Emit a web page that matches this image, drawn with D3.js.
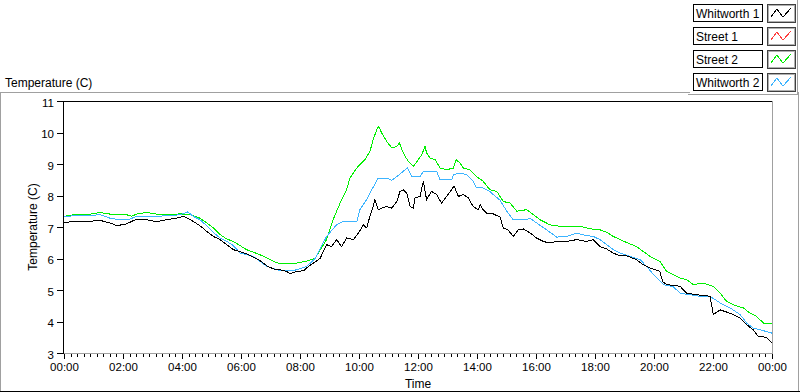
<!DOCTYPE html>
<html>
<head>
<meta charset="utf-8">
<script src="https://cdn.jsdelivr.net/npm/d3@7"></script>
<style>
  html, body { margin: 0; padding: 0; background: #ffffff; }
  svg { display: block; font-family: "Liberation Sans", Arial, sans-serif; }
</style>
</head>
<body>
<svg id="chart" width="800" height="392"></svg>
<script>
// ---------- DATA ----------
const seriesNames = ["Whitworth 1", "Street 1", "Street 2", "Whitworth 2"];
const seriesColors = ["#000000", "#ff3c3c", "#00f000", "#3cb4ff"];

const xTickLabels = ["00:00","02:00","04:00","06:00","08:00","10:00","12:00","14:00","16:00","18:00","20:00","22:00","00:00"];
const yTickValues = [3, 4, 5, 6, 7, 8, 9, 10, 11];

// Whitworth 1 (black): time in hours, temperature in °C
const whitworth1Hours = [0,0.32,0.77,1.22,1.56,1.79,2.12,2.46,2.8,3.14,3.48,3.82,4.04,4.2,4.38,4.61,4.84,5.06,5.29,5.52,5.74,5.97,6.19,6.42,6.64,6.87,7.1,7.32,7.55,7.66,7.89,8.12,8.29,8.45,8.68,8.9,9.07,9.24,9.41,9.58,9.81,9.98,10.15,10.26,10.37,10.48,10.54,10.65,10.77,10.94,11.11,11.28,11.39,11.5,11.62,11.73,11.84,11.9,12.07,12.18,12.29,12.46,12.63,12.8,12.97,13.14,13.22,13.37,13.54,13.71,13.87,14.04,14.11,14.21,14.33,14.5,14.67,14.78,14.89,15.06,15.23,15.4,15.57,15.8,16.02,16.25,16.47,16.7,17.04,17.38,17.72,17.94,18.17,18.4,18.62,18.85,19.07,19.41,19.64,19.86,20.2,20.29,20.43,20.88,21.11,21.45,21.9,22.01,22.24,22.46,22.69,22.92,23.14,23.36,23.53,23.81,24];
const whitworth1Temp  = [7.13,7.18,7.17,7.21,7.13,7.04,7.10,7.25,7.23,7.17,7.23,7.28,7.34,7.27,7.18,7.04,6.86,6.70,6.60,6.44,6.28,6.22,6.15,6.04,5.94,5.77,5.67,5.64,5.59,5.52,5.59,5.61,5.75,5.85,6.0,6.44,6.38,6.6,6.38,6.65,6.6,6.81,7.07,6.97,7.34,7.65,7.87,7.55,7.6,7.65,7.6,7.81,8.13,8.18,8.08,7.65,7.6,7.92,7.97,8.45,7.87,8.13,8.03,7.76,7.97,8.18,8.31,7.97,8.03,7.92,7.65,7.55,7.7,7.55,7.44,7.44,7.36,7.32,6.97,6.9,6.7,6.91,6.94,6.81,6.65,6.54,6.49,6.54,6.54,6.6,6.54,6.6,6.38,6.3,6.17,6.09,6.09,5.96,5.8,5.7,5.59,5.27,5.17,5.12,4.9,4.85,4.8,4.22,4.37,4.3,4.22,4.11,3.9,3.74,3.53,3.5,3.32];

// Street 1 (red): no samples visible in the plot
const street1Hours = [];
const street1Temp  = [];

// Street 2 (green)
const street2Hours = [0,0.32,0.77,1.22,1.56,2.12,2.29,2.46,2.8,3.25,3.7,3.93,4.27,4.61,4.84,5.06,5.29,5.52,5.74,5.97,6.19,6.42,6.64,6.87,7.1,7.32,7.77,8.23,8.51,8.9,9.12,9.36,9.58,9.69,9.92,10.2,10.37,10.48,10.6,10.67,10.77,10.94,11.11,11.28,11.37,11.5,11.67,11.84,12.01,12.13,12.24,12.29,12.41,12.58,12.75,12.97,13.2,13.29,13.42,13.54,13.76,13.99,14.21,14.44,14.67,14.89,15.12,15.35,15.68,15.91,16.14,16.47,16.81,17.49,17.72,18.06,18.17,18.4,18.62,18.85,19.07,19.41,19.64,19.86,20.2,20.43,20.65,20.88,21.11,21.33,21.67,22.01,22.24,22.46,22.69,23.03,23.25,23.48,23.71,24];
const street2Temp  = [7.34,7.39,7.39,7.46,7.41,7.39,7.34,7.41,7.46,7.39,7.39,7.42,7.39,7.28,7.13,6.97,6.76,6.62,6.54,6.41,6.28,6.2,6.12,6.02,5.91,5.83,5.83,5.92,6.0,6.6,7.23,7.76,8.18,8.55,8.87,9.14,9.4,9.77,10.09,10.19,9.98,9.72,9.51,9.56,9.67,9.35,9.08,8.92,9.14,9.3,9.56,9.35,9.19,9.14,8.87,8.82,8.87,9.14,9.03,8.87,8.82,8.6,8.45,8.18,8.13,7.81,7.76,7.5,7.55,7.39,7.23,7.07,7.02,7.02,6.97,6.91,6.91,6.83,6.7,6.6,6.51,6.38,6.22,6.07,5.91,5.59,5.49,5.38,5.33,5.17,5.22,5.11,4.9,4.64,4.53,4.43,4.27,4.16,3.95,3.93];

// Whitworth 2 (light blue)
const whitworth2Hours = [0,0.32,0.77,1.22,1.56,1.9,2.23,2.46,3.02,3.7,4.04,4.2,4.38,4.61,4.84,5.06,5.29,5.52,5.74,5.97,6.19,6.42,6.64,6.87,7.1,7.32,7.77,8.23,8.51,8.9,9.24,9.46,9.93,10.03,10.26,10.43,10.65,10.94,11.11,11.28,11.5,11.64,11.79,12.07,12.18,12.63,12.75,13.14,13.2,13.42,13.65,13.87,13.99,14.21,14.44,14.55,14.78,15.01,15.23,15.68,15.8,16.02,16.36,16.7,17.04,17.38,17.6,17.94,18.17,18.4,18.62,18.85,19.19,19.53,19.75,19.98,20.32,20.65,20.88,21.22,21.56,21.9,22.24,22.58,22.92,23.14,23.36,23.59,24];
const whitworth2Temp  = [7.32,7.36,7.36,7.39,7.28,7.23,7.25,7.34,7.34,7.36,7.42,7.48,7.34,7.23,7.04,6.83,6.65,6.54,6.41,6.17,6.12,6.07,5.91,5.75,5.68,5.61,5.61,5.75,6.0,6.7,7.07,7.18,7.18,7.55,7.87,8.18,8.55,8.55,8.48,8.6,8.77,8.87,8.6,8.6,8.77,8.77,8.5,8.5,8.66,8.71,8.66,8.45,8.24,8.24,8.13,8.03,7.85,7.5,7.23,7.23,7.28,7.13,6.91,6.68,6.7,6.81,6.75,6.7,6.6,6.44,6.28,6.17,6.07,5.96,5.75,5.49,5.17,5.11,4.9,4.85,4.8,4.8,4.59,4.43,4.22,3.95,3.79,3.74,3.63];

// ---------- DRAW ----------
const svg = d3.select("#chart");
const W = 800, H = 392;
const plot = { left: 64, right: 772, top: 101, bottom: 353 };

svg.append("rect").attr("width", W).attr("height", H).attr("fill", "#ffffff");

const x = d3.scaleLinear().domain([0, 24]).range([plot.left, plot.right]);
const y = d3.scaleLinear().domain([3, 11]).range([plot.bottom, plot.top]);

// outer panel frame
svg.append("line").attr("x1", 0).attr("x2", 690).attr("y1", 92.5).attr("y2", 92.5).attr("stroke", "#a0a0a0");
svg.append("line").attr("x1", 0.5).attr("x2", 0.5).attr("y1", 92).attr("y2", 392).attr("stroke", "#a0a0a0");
svg.append("line").attr("x1", 798.5).attr("x2", 798.5).attr("y1", 92).attr("y2", 392).attr("stroke", "#a0a0a0");
svg.append("line").attr("x1", 0).attr("x2", 800).attr("y1", 391.5).attr("y2", 391.5).attr("stroke", "#000000");

// graph title
svg.append("text").attr("x", 5).attr("y", 87).attr("font-size", 12).attr("fill", "#000").text("Temperature (C)");

// legend
const legend = svg.append("g");
legend.append("line").attr("x1", 688).attr("x2", 798).attr("y1", 94.5).attr("y2", 94.5).attr("stroke", "#a0a0a0");
legend.append("line").attr("x1", 797.5).attr("x2", 797.5).attr("y1", 0).attr("y2", 95).attr("stroke", "#a0a0a0");
seriesNames.forEach((name, i) => {
  const top = 4 + i * 23;
  const g = legend.append("g").attr("transform", `translate(0,${top})`);
  g.append("rect").attr("x", 693.5).attr("y", 0.5).attr("width", 69).attr("height", 17)
    .attr("fill", "#fff").attr("stroke", "#000");
  g.append("text").attr("x", 696).attr("y", 13.5).attr("font-size", 12).attr("fill", "#000").text(name);
  g.append("rect").attr("x", 767.5).attr("y", 0.5).attr("width", 28).attr("height", 18)
    .attr("fill", "#fff").attr("stroke", "#404040");
  g.append("rect").attr("x", 768.5).attr("y", 1.5).attr("width", 26).attr("height", 16)
    .attr("fill", "none").attr("stroke", "#b0b0b0");
  g.append("polyline")
    .attr("points", "771,13 777,5 783,13 791,4")
    .attr("fill", "none").attr("stroke", seriesColors[i]).attr("stroke-width", 1)
    .attr("shape-rendering", "crispEdges");
});

// plot frame
svg.append("line").attr("x1", plot.left - 0.5).attr("x2", plot.left - 0.5).attr("y1", plot.top).attr("y2", plot.bottom + 1).attr("stroke", "#000");
svg.append("line").attr("x1", plot.left).attr("x2", plot.right + 1).attr("y1", plot.top + 0.5).attr("y2", plot.top + 0.5).attr("stroke", "#000");
svg.append("line").attr("x1", plot.right + 0.5).attr("x2", plot.right + 0.5).attr("y1", plot.top).attr("y2", plot.bottom + 1).attr("stroke", "#a0a0a0");
svg.append("line").attr("x1", plot.left).attr("x2", plot.right + 1).attr("y1", plot.bottom + 0.5).attr("y2", plot.bottom + 0.5).attr("stroke", "#a0a0a0");

// y axis
const yAxis = d3.axisLeft(y).tickValues(yTickValues).tickSize(6).tickSizeOuter(0).tickPadding(3).tickFormat(d3.format("d"));
const yG = svg.append("g").attr("transform", `translate(${plot.left - 1},0)`).call(yAxis);
yG.select(".domain").remove();
yG.selectAll(".tick line").attr("stroke", "#000").attr("shape-rendering", "crispEdges");
yG.selectAll(".tick text").attr("font-size", 11.5).attr("fill", "#000").attr("font-family", "Liberation Sans, Arial, sans-serif").attr("dy", "0.45em");

// x axis major
const majorVals = d3.range(0, 25, 2);
const xAxis = d3.axisBottom(x).tickValues(majorVals).tickSize(5).tickSizeOuter(0).tickPadding(4)
  .tickFormat((d, i) => xTickLabels[i]);
const xG = svg.append("g").attr("transform", `translate(0,${plot.bottom + 1})`).call(xAxis);
xG.select(".domain").remove();
xG.selectAll(".tick line").attr("stroke", "#000").attr("shape-rendering", "crispEdges");
xG.selectAll(".tick text").attr("font-size", 11.5).attr("fill", "#000").attr("font-family", "Liberation Sans, Arial, sans-serif");

// x axis minor ticks (9 subdivisions per major interval)
const minorVals = [];
for (let m = 0; m < 24; m += 2) for (let k = 1; k < 9; k++) minorVals.push(m + k * 2 / 9);
const xMinor = d3.axisBottom(x).tickValues(minorVals).tickSize(3).tickSizeOuter(0).tickFormat("");
const xmG = svg.append("g").attr("transform", `translate(0,${plot.bottom + 1})`).call(xMinor);
xmG.select(".domain").remove();
xmG.selectAll(".tick line").attr("stroke", "#000").attr("shape-rendering", "crispEdges");

// axis titles
svg.append("text").attr("x", (plot.left + plot.right) / 2).attr("y", 388).attr("text-anchor", "middle")
  .attr("font-size", 12).attr("fill", "#000").text("Time");
svg.append("text").attr("transform", `translate(37,227) rotate(-90)`).attr("text-anchor", "middle")
  .attr("font-size", 12).attr("fill", "#000").text("Temperature (C)");

// series lines
const line = d3.line().x(d => x(d[0])).y(d => y(d[1])).curve(d3.curveLinear);
const series = [
  { hours: street2Hours, temp: street2Temp, color: seriesColors[2] },
  { hours: street1Hours, temp: street1Temp, color: seriesColors[1] },
  { hours: whitworth2Hours, temp: whitworth2Temp, color: seriesColors[3] },
  { hours: whitworth1Hours, temp: whitworth1Temp, color: seriesColors[0] }
];
const clip = svg.append("clipPath").attr("id", "plotclip").append("rect")
  .attr("x", plot.left).attr("y", plot.top + 1).attr("width", plot.right - plot.left).attr("height", plot.bottom - plot.top - 1);
const lines = svg.append("g").attr("clip-path", "url(#plotclip)");
series.forEach(s => {
  if (!s.hours.length) return;
  const pts = s.hours.map((h, i) => [h, s.temp[i]]);
  lines.append("path").datum(pts).attr("d", line)
    .attr("fill", "none").attr("stroke", s.color).attr("stroke-width", 1)
    .attr("shape-rendering", "crispEdges");
});
</script>
</body>
</html>
